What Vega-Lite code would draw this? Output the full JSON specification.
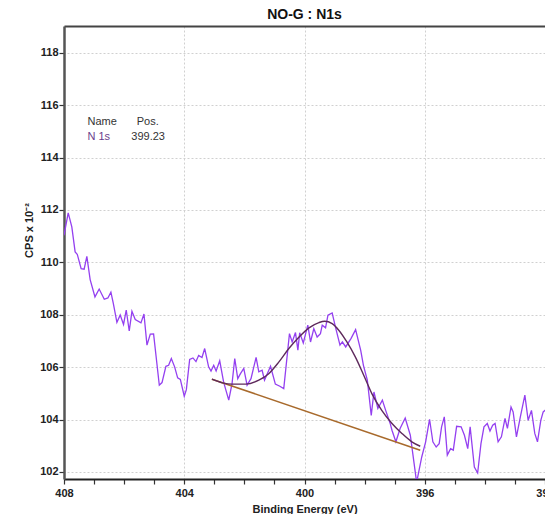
{
  "$schema": "https://vega.github.io/schema/vega-lite/v6.json",
  "width": 481,
  "height": 453,
  "autosize": {"type": "none"},
  "padding": {"left": 64, "top": 26, "right": 0, "bottom": 35},
  "background": "white",
  "title": {"text": "NO-G : N1s", "font": "Liberation Sans", "fontSize": 14, "fontWeight": "bold", "color": "#111", "anchor": "middle", "offset": 4},
  "config": {
    "view": {"stroke": null},
    "axis": {"labelFont": "Liberation Sans", "titleFont": "Liberation Sans", "labelFontSize": 11, "labelFontWeight": "bold", "labelColor": "#222", "titleFontSize": 11, "titleFontWeight": "bold", "titleColor": "#222"}
  },
  "datasets": {
    "spec": [
      {"E": 408.00, "cps": 111.03}, {"E": 407.86, "cps": 111.89}, {"E": 407.74, "cps": 111.35}, {"E": 407.63, "cps": 110.40},
      {"E": 407.56, "cps": 110.31}, {"E": 407.43, "cps": 109.76}, {"E": 407.33, "cps": 109.74}, {"E": 407.24, "cps": 110.23},
      {"E": 407.13, "cps": 109.34}, {"E": 406.97, "cps": 108.68}, {"E": 406.83, "cps": 108.98}, {"E": 406.66, "cps": 108.59},
      {"E": 406.54, "cps": 108.64}, {"E": 406.44, "cps": 108.86}, {"E": 406.36, "cps": 108.43}, {"E": 406.24, "cps": 107.71},
      {"E": 406.13, "cps": 107.99}, {"E": 406.02, "cps": 107.63}, {"E": 405.93, "cps": 108.18}, {"E": 405.83, "cps": 107.38},
      {"E": 405.74, "cps": 108.13}, {"E": 405.63, "cps": 107.82}, {"E": 405.44, "cps": 107.69}, {"E": 405.34, "cps": 108.03},
      {"E": 405.24, "cps": 106.84}, {"E": 405.13, "cps": 107.26}, {"E": 405.02, "cps": 107.27}, {"E": 404.83, "cps": 105.31},
      {"E": 404.74, "cps": 105.41}, {"E": 404.61, "cps": 106.03}, {"E": 404.52, "cps": 106.07}, {"E": 404.43, "cps": 106.33},
      {"E": 404.32, "cps": 106.01}, {"E": 404.22, "cps": 105.59}, {"E": 404.13, "cps": 105.53}, {"E": 404.00, "cps": 104.89},
      {"E": 403.93, "cps": 105.14}, {"E": 403.82, "cps": 106.29}, {"E": 403.71, "cps": 106.35}, {"E": 403.61, "cps": 106.21},
      {"E": 403.52, "cps": 106.45}, {"E": 403.41, "cps": 106.37}, {"E": 403.32, "cps": 106.71}, {"E": 403.19, "cps": 106.01},
      {"E": 403.11, "cps": 105.85}, {"E": 403.02, "cps": 106.07}, {"E": 402.94, "cps": 105.85}, {"E": 402.82, "cps": 106.24},
      {"E": 402.69, "cps": 105.43}, {"E": 402.52, "cps": 104.74}, {"E": 402.41, "cps": 105.37}, {"E": 402.32, "cps": 106.33},
      {"E": 402.22, "cps": 105.56}, {"E": 402.13, "cps": 105.75}, {"E": 402.02, "cps": 105.95}, {"E": 401.91, "cps": 105.31},
      {"E": 401.78, "cps": 105.56}, {"E": 401.61, "cps": 106.37}, {"E": 401.52, "cps": 105.82}, {"E": 401.41, "cps": 105.88},
      {"E": 401.33, "cps": 105.50}, {"E": 401.13, "cps": 106.03}, {"E": 400.97, "cps": 105.35}, {"E": 400.82, "cps": 105.27},
      {"E": 400.69, "cps": 105.18}, {"E": 400.50, "cps": 107.28}, {"E": 400.41, "cps": 106.96}, {"E": 400.30, "cps": 107.32},
      {"E": 400.22, "cps": 106.65}, {"E": 400.16, "cps": 107.31}, {"E": 400.04, "cps": 106.92}, {"E": 399.89, "cps": 107.60},
      {"E": 399.80, "cps": 106.96}, {"E": 399.69, "cps": 107.47}, {"E": 399.58, "cps": 107.15}, {"E": 399.47, "cps": 107.28},
      {"E": 399.41, "cps": 107.60}, {"E": 399.30, "cps": 107.50}, {"E": 399.22, "cps": 107.98}, {"E": 399.08, "cps": 108.07},
      {"E": 398.97, "cps": 107.53}, {"E": 398.82, "cps": 106.84}, {"E": 398.74, "cps": 106.96}, {"E": 398.63, "cps": 106.77},
      {"E": 398.45, "cps": 107.10}, {"E": 398.30, "cps": 107.43}, {"E": 398.13, "cps": 106.64}, {"E": 398.04, "cps": 106.07},
      {"E": 397.91, "cps": 105.50}, {"E": 397.78, "cps": 104.16}, {"E": 397.69, "cps": 105.05}, {"E": 397.56, "cps": 104.42},
      {"E": 397.41, "cps": 104.74}, {"E": 397.30, "cps": 104.35}, {"E": 397.15, "cps": 103.85}, {"E": 397.09, "cps": 103.59},
      {"E": 396.96, "cps": 103.15}, {"E": 396.82, "cps": 103.66}, {"E": 396.65, "cps": 104.06}, {"E": 396.48, "cps": 103.40},
      {"E": 396.27, "cps": 101.60}, {"E": 396.10, "cps": 102.57}, {"E": 395.97, "cps": 103.15}, {"E": 395.84, "cps": 104.01},
      {"E": 395.73, "cps": 103.15}, {"E": 395.62, "cps": 102.95}, {"E": 395.52, "cps": 103.08}, {"E": 395.44, "cps": 103.72},
      {"E": 395.35, "cps": 104.10}, {"E": 395.25, "cps": 102.64}, {"E": 395.14, "cps": 102.89}, {"E": 395.05, "cps": 102.83},
      {"E": 394.94, "cps": 103.74}, {"E": 394.79, "cps": 103.72}, {"E": 394.68, "cps": 103.40}, {"E": 394.57, "cps": 102.89},
      {"E": 394.49, "cps": 103.72}, {"E": 394.35, "cps": 102.19}, {"E": 394.24, "cps": 101.96}, {"E": 394.13, "cps": 103.08},
      {"E": 394.03, "cps": 103.72}, {"E": 393.92, "cps": 103.85}, {"E": 393.83, "cps": 103.56}, {"E": 393.74, "cps": 103.78},
      {"E": 393.66, "cps": 103.85}, {"E": 393.56, "cps": 103.15}, {"E": 393.45, "cps": 103.34}, {"E": 393.33, "cps": 104.04},
      {"E": 393.25, "cps": 103.66}, {"E": 393.13, "cps": 104.48}, {"E": 393.06, "cps": 104.29}, {"E": 392.95, "cps": 103.34},
      {"E": 392.82, "cps": 104.10}, {"E": 392.67, "cps": 104.93}, {"E": 392.56, "cps": 103.97}, {"E": 392.45, "cps": 104.35},
      {"E": 392.34, "cps": 103.47}, {"E": 392.25, "cps": 103.15}, {"E": 392.14, "cps": 103.97}, {"E": 392.06, "cps": 104.29},
      {"E": 391.95, "cps": 104.40}
    ],
    "env": [
      {"E": 403.08, "cps": 105.54}, {"E": 402.73, "cps": 105.40}, {"E": 402.40, "cps": 105.35}, {"E": 401.96, "cps": 105.35},
      {"E": 401.52, "cps": 105.50}, {"E": 401.18, "cps": 105.76}, {"E": 400.85, "cps": 106.20}, {"E": 400.52, "cps": 106.71},
      {"E": 400.18, "cps": 107.15}, {"E": 399.85, "cps": 107.50}, {"E": 399.52, "cps": 107.70}, {"E": 399.33, "cps": 107.75},
      {"E": 399.08, "cps": 107.66}, {"E": 398.86, "cps": 107.41}, {"E": 398.59, "cps": 106.96}, {"E": 398.31, "cps": 106.39},
      {"E": 398.03, "cps": 105.69}, {"E": 397.76, "cps": 104.99}, {"E": 397.43, "cps": 104.35}, {"E": 397.09, "cps": 103.85},
      {"E": 396.76, "cps": 103.47}, {"E": 396.43, "cps": 103.15}, {"E": 396.15, "cps": 102.98}
    ],
    "bg": [
      {"E": 403.08, "cps": 105.54}, {"E": 396.15, "cps": 102.83}
    ],
    "labels": [
      {"E": 407.22, "cps": 115.35, "label": "Name", "kind": "head"},
      {"E": 405.58, "cps": 115.35, "label": "Pos.", "kind": "head"},
      {"E": 407.22, "cps": 114.78, "label": "N 1s", "kind": "peak"},
      {"E": 405.76, "cps": 114.78, "label": "399.23", "kind": "pos"}
    ]
  },
  "layer": [
    {
      "data": {"name": "spec"},
      "mark": {"type": "line", "color": "#9440f0", "strokeWidth": 1.3, "clip": true},
      "encoding": {
        "x": {"field": "E", "type": "quantitative",
          "scale": {"domain": [392, 408], "reverse": true, "nice": false, "zero": false},
          "axis": {"values": [392,393,394,395,396,397,398,399,400,401,402,403,404,405,406,407,408],
            "format": "d", "labelExpr": "datum.value % 4 == 0 ? datum.label : ''",
            "labelFlush": false, "labelOverlap": false, "labelBound": false, "labelPadding": 3,
            "tickSize": 5, "tickColor": "#333", "tickWidth": 1.2,
            "domainColor": "#222", "domainWidth": 2,
            "grid": true, "gridColor": "#d0d0d0", "gridDash": [2, 2],
            "gridOpacity": {"condition": {"test": "datum.value % 4 == 0", "value": 1}, "value": 0},
            "title": "Binding Energy (eV)", "titlePadding": 5}},
        "y": {"field": "cps", "type": "quantitative",
          "scale": {"domain": [101.73, 119.02], "nice": false, "zero": false},
          "axis": {"values": [102,103,104,105,106,107,108,109,110,111,112,113,114,115,116,117,118,119],
            "format": "d", "labelExpr": "datum.value % 2 == 0 ? datum.label : ''",
            "labelOverlap": false, "labelBound": false, "labelPadding": 1,
            "tickSize": {"condition": {"test": "datum.value % 2 == 0", "value": 5}, "value": 3},
            "tickColor": "#333", "tickWidth": 1.2,
            "domainColor": "#555", "domainWidth": 2.5,
            "grid": true, "gridColor": "#d0d0d0", "gridDash": [2, 2],
            "gridOpacity": {"condition": {"test": "datum.value % 2 == 0", "value": 1}, "value": 0},
            "title": "CPS x 10⁻²", "titlePadding": 5, "titleY": 204}}
      }
    },
    {
      "data": {"name": "bg"},
      "mark": {"type": "line", "color": "#a86a2c", "strokeWidth": 1.6},
      "encoding": {
        "x": {"field": "E", "type": "quantitative", "axis": null},
        "y": {"field": "cps", "type": "quantitative"}
      }
    },
    {
      "data": {"name": "env"},
      "mark": {"type": "line", "color": "#5e2a5c", "strokeWidth": 1.4, "interpolate": "monotone"},
      "encoding": {
        "x": {"field": "E", "type": "quantitative", "axis": null},
        "y": {"field": "cps", "type": "quantitative"}
      }
    },
    {
      "data": {"name": "labels"},
      "mark": {"type": "text", "align": "left", "baseline": "middle", "font": "Liberation Sans", "fontSize": 11},
      "encoding": {
        "x": {"field": "E", "type": "quantitative",
          "axis": {"orient": "top", "ticks": false, "labels": false, "grid": false, "title": null, "domainColor": "#444", "domainWidth": 2}},
        "y": {"field": "cps", "type": "quantitative"},
        "text": {"field": "label"},
        "color": {"field": "kind", "type": "nominal", "legend": null,
          "scale": {"domain": ["head", "peak", "pos"], "range": ["#333333", "#6a3d8c", "#333333"]}}
      }
    }
  ],
  "resolve": {"axis": {"x": "independent"}}
}
